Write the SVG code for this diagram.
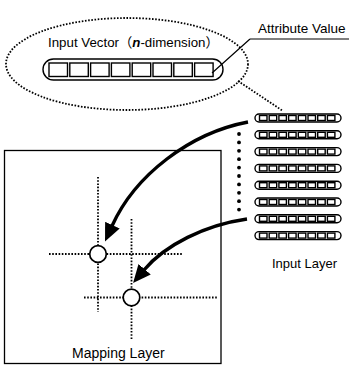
<svg xmlns="http://www.w3.org/2000/svg" xmlns:xlink="http://www.w3.org/1999/xlink" width="349" height="366" viewBox="0 0 349 366">
<style>
.t{font-family:"Liberation Sans",Arial,sans-serif;fill:#000}
.dot{fill:none;stroke:#000;stroke-width:1.8;stroke-dasharray:1.6 1.6}
.box{fill:#fff;stroke:#000;stroke-width:1.4}
.ln{fill:none;stroke:#000;stroke-width:1.2}
.arr{fill:none;stroke:#000;stroke-width:3.4;marker-end:url(#ah)}
</style>
<defs>
<marker id="ah" markerUnits="userSpaceOnUse" markerWidth="19" markerHeight="17" refX="1" refY="8" orient="auto">
<path d="M0,0 L18,8 L0,16 z" fill="#000"/>
</marker>
<g id="bar">
<rect class="box" x="255" y="0" width="86" height="8" rx="4"/>
<rect class="box" x="259.5" y="1.5" width="7.5" height="5"/>
<rect class="box" x="269.2" y="1.5" width="7.5" height="5"/>
<rect class="box" x="278.9" y="1.5" width="7.5" height="5"/>
<rect class="box" x="288.6" y="1.5" width="7.5" height="5"/>
<rect class="box" x="298.3" y="1.5" width="7.5" height="5"/>
<rect class="box" x="308" y="1.5" width="7.5" height="5"/>
<rect class="box" x="317.7" y="1.5" width="7.5" height="5"/>
<rect class="box" x="327.4" y="1.5" width="7.5" height="5"/>
</g>
</defs>
<rect width="349" height="366" fill="#fff"/>

<g id="input-vector">
<ellipse class="dot" cx="127" cy="64" rx="121" ry="46"/>
<text class="t" x="48" y="47" font-size="13.3">Input Vector<tspan font-family="'Noto Sans CJK JP',sans-serif">（</tspan><tspan font-weight="bold" font-style="italic">n</tspan>-dimension<tspan font-family="'Noto Sans CJK JP',sans-serif">）</tspan></text>
<rect class="box" x="43" y="59" width="180" height="21" rx="10.5"/>
<rect class="box" x="49" y="63" width="18.5" height="13.5"/>
<rect class="box" x="69.8" y="63" width="18.5" height="13.5"/>
<rect class="box" x="90.6" y="63" width="18.5" height="13.5"/>
<rect class="box" x="111.4" y="63" width="18.5" height="13.5"/>
<rect class="box" x="132.2" y="63" width="18.5" height="13.5"/>
<rect class="box" x="153" y="63" width="18.5" height="13.5"/>
<rect class="box" x="173.8" y="63" width="18.5" height="13.5"/>
<rect class="box" x="194.6" y="63" width="18.5" height="13.5"/>
</g>

<g id="attribute-value">
<text class="t" x="258" y="33" font-size="13.5">Attribute Value</text>
</g>

<g id="input-layer">
<use xlink:href="#bar" y="114"/>
<use xlink:href="#bar" y="130.8"/>
<use xlink:href="#bar" y="147.6"/>
<use xlink:href="#bar" y="164.4"/>
<use xlink:href="#bar" y="181.2"/>
<use xlink:href="#bar" y="198"/>
<use xlink:href="#bar" y="214.8"/>
<use xlink:href="#bar" y="231.6"/>
<g fill="#000">
<circle cx="239" cy="134" r="1.9"/>
<circle cx="239" cy="142.4" r="1.9"/>
<circle cx="239" cy="150.8" r="1.9"/>
<circle cx="239" cy="159.2" r="1.9"/>
<circle cx="239" cy="167.6" r="1.9"/>
<circle cx="239" cy="176" r="1.9"/>
<circle cx="239" cy="184.4" r="1.9"/>
<circle cx="239" cy="192.8" r="1.9"/>
<circle cx="239" cy="201.2" r="1.9"/>
<circle cx="239" cy="209.6" r="1.9"/>
</g>
<text class="t" x="272" y="268" font-size="13">Input Layer</text>
</g>

<g id="mapping-layer">
<rect x="4.5" y="150.5" width="216.5" height="213" fill="none" stroke="#000" stroke-width="1.3"/>
<path class="dot" d="M98,177 V312 M49,254 H183 M131.5,219 V340 M84,297.5 H218"/>
<circle cx="98" cy="254" r="8.3" fill="#fff" stroke="#000" stroke-width="1.7"/>
<circle cx="131.5" cy="297.5" r="8.3" fill="#fff" stroke="#000" stroke-width="1.7"/>
<text class="t" x="72" y="358" font-size="14">Mapping Layer</text>
</g>

<g id="connectors">
<path class="ln" d="M250,39 H349 M250,39 L212,73"/>
<path class="dot" d="M238,81 L283,111"/>
<path class="arr" d="M248,122 C190,133 135,175 112,226"/>
<path class="arr" d="M247,219 C205,225 165,245 144,270"/>
</g>
</svg>
